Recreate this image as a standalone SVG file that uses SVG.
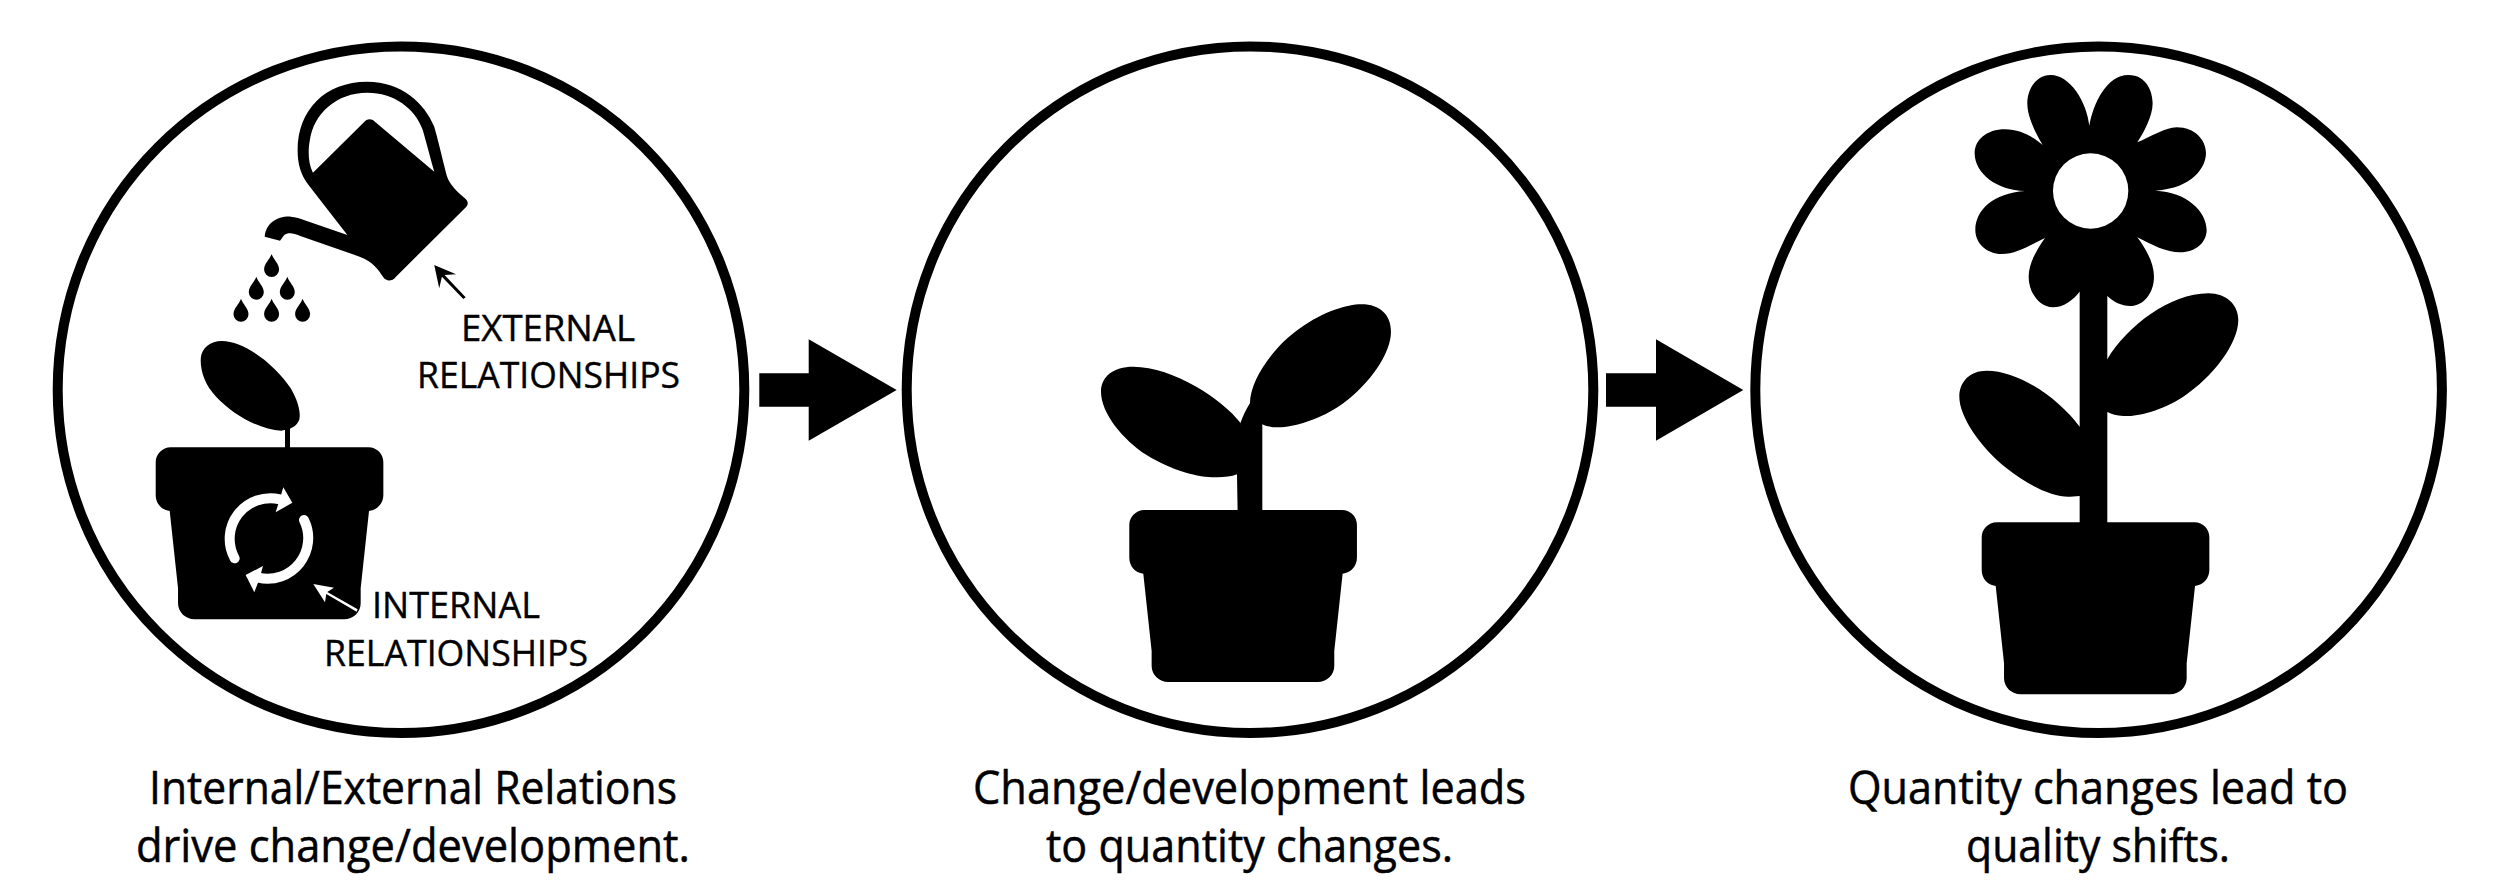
<svg xmlns="http://www.w3.org/2000/svg" width="2500" height="895" viewBox="0 0 2500 895">
<style>
.ring{fill:#fff;stroke:#000;stroke-width:10}
.b{fill:#000}
.w{fill:#fff}
.cap{font-family:"Open Sans","Liberation Sans",sans-serif;font-size:46px;fill:#000;stroke:#000;stroke-width:.5}
.lab{font-family:"Open Sans","Liberation Sans",sans-serif;font-size:37px;fill:#000;stroke:#000;stroke-width:.4}
</style>
<defs>
<path id="pot" d="M45 0H638C665 0 683 21 683 45V143C683 168 665 188 640 191L615 423V468C615 495 593 516 565 516H117C90 516 67 495 67 468V423L42 191C17 188 0 168 0 143V45C0 21 20 0 45 0Z"/>
<path id="drop" d="M0 0C1.5 5 7.5 9.5 7.5 15.5A7.5 7.5 0 0 1-7.5 15.5C-7.5 9.5-1.5 5 0 0Z"/>
</defs>
<rect width="2500" height="895" fill="#fff"/>
<g id="connectors">
<path id="arrow1" class="b" d="M759.3 373.3H808.7V339.3L896.7 390L808.7 440.7V406.7H759.3Z"/>
<path id="arrow2" class="b" d="M1606 373.3H1656V339.3L1743.3 390L1656 440.7V406.7H1606Z"/>
</g>
<g id="node-external-internal">
<circle class="ring" cx="401" cy="389.7" r="343.3"/>
<g id="watering-can" transform="translate(130 50) scale(.3827 .3333)">
<path class="b" fill-rule="evenodd" d="M352 560C355 520 385 498 420 500C432 501 445 505 460 512L568 555L470 410C445 375 438 340 438 300C438 180 510 95 620 95C710 95 770 160 795 230C805 270 815 320 825 365C830 395 845 415 875 445C885 455 885 465 875 475L695 680C685 695 670 695 662 682C650 660 635 635 600 620L445 558C425 548 412 548 403 555L392 572ZM478 368C465 340 465 300 470 270C480 190 540 128 620 128C690 128 745 175 765 240C775 280 785 325 795 365L640 215C630 205 620 205 610 218Z"/>
<path class="b" d="M871 747L815 680L808 715L795 645L852 673L822 675L877 742Z"/>
</g>
<g id="drops" class="b">
<use href="#drop" x="271.6" y="254"/>
<use href="#drop" x="256.3" y="276.7"/>
<use href="#drop" x="287.3" y="276.7"/>
<use href="#drop" x="241" y="298.7"/>
<use href="#drop" x="271.6" y="298.7"/>
<use href="#drop" x="302.6" y="298.7"/>
</g>
<g id="seedling">
<path class="b" transform="translate(130 50) scale(.3827 .3333)" d="M240 873C300 873 380 945 420 1015C440 1055 447 1090 442 1110C435 1130 420 1138 395 1142C340 1140 270 1095 225 1040C195 1005 183 960 185 925C187 893 210 873 240 873Z"/>
<rect class="b" x="285" y="420" width="5" height="30"/>
<use href="#pot" transform="translate(155.7 447.3) scale(.3333)"/>
</g>
<g id="cycle" transform="translate(130 420) scale(.3333)">
<path d="M314 415A122 122 0 0 1 450 238M522 300A122 122 0 0 1 385 473" fill="none" stroke="#fff" stroke-width="30" stroke-linecap="round"/>
<path class="w" d="M460 202L487 248L437 277L447 245Z"/>
<path class="w" d="M347 465L399 438L388 478L373 517Z"/>
<path class="w" d="M683 568L592 516L612 503L550 492L585 547L589 522L680 575Z"/>
</g>
<text class="lab" x="461" y="341" textLength="174" lengthAdjust="spacingAndGlyphs">EXTERNAL</text>
<text class="lab" x="417" y="388" textLength="263" lengthAdjust="spacingAndGlyphs">RELATIONSHIPS</text>
<text class="lab" x="372" y="617.5" textLength="168" lengthAdjust="spacingAndGlyphs">INTERNAL</text>
<text class="lab" x="324" y="665.5" textLength="264" lengthAdjust="spacingAndGlyphs">RELATIONSHIPS</text>
<text class="cap" x="149" y="804" textLength="528" lengthAdjust="spacingAndGlyphs">Internal/External Relations</text>
<text class="cap" x="136" y="861.7" textLength="554" lengthAdjust="spacingAndGlyphs">drive change/development.</text>
</g>
<g id="node-sprout">
<circle class="ring" cx="1250" cy="389.7" r="343.3"/>
<g transform="translate(1060 280) scale(.3333)">
<path class="b" d="M533 700L531 583L541 430C548 410 560 385 570 370L607 430V700Z"/>
<path class="b" d="M570 370C570 300 640 200 720 145C790 95 860 73 905 73C960 73 993 105 993 155C993 220 930 310 850 370C780 420 700 443 650 442C630 442 618 438 607 433L560 400Z"/>
<path class="b" d="M541 428C490 360 340 260 220 260C160 260 123 290 123 335C123 400 190 480 260 525C340 575 420 593 470 592C495 592 515 590 531 583L560 500Z"/>
</g>
<use href="#pot" transform="translate(1129.3 510) scale(.3333)"/>
<text class="cap" x="973" y="804" textLength="553" lengthAdjust="spacingAndGlyphs">Change/development leads</text>
<text class="cap" x="1046" y="861.7" textLength="407" lengthAdjust="spacingAndGlyphs">to quantity changes.</text>
</g>
<g id="node-flower">
<circle class="ring" cx="2098.6" cy="389.7" r="343.3"/>
<g transform="translate(1930 60) scale(.3333)">
<path class="b" d="M478 197C490 130 530 45 595 45C650 45 668 95 668 130C668 170 640 220 622 247C660 232 705 202 740 202C795 202 828 240 828 280C828 320 790 385 676 392C770 395 830 455 830 510C830 545 800 577 750 577C710 577 665 555 622 532C650 570 672 610 672 650C672 700 640 738 600 738C575 738 550 725 532 708L449 695C430 720 400 742 368 742C330 742 296 700 296 650C296 610 320 570 345 534C300 555 260 582 215 582C170 582 136 550 136 510C136 450 190 400 285 393C200 392 134 340 134 280C134 240 170 208 225 208C270 208 310 230 338 255C315 215 292 170 292 130C292 85 320 45 362 45C420 45 470 125 478 197Z"/>
<circle class="w" cx="482" cy="393" r="113"/>
</g>
<g transform="translate(1930 280) scale(.3333)">
<rect class="b" x="449" y="30" width="83" height="710"/>
<path class="b" d="M532 238C590 140 720 40 835 40C890 40 925 75 925 120C925 190 850 290 760 350C690 395 620 410 580 408C560 407 545 403 532 396L500 390L500 250Z"/>
<path class="b" d="M449 440C390 360 270 272 170 272C120 272 88 305 88 350C88 410 150 500 230 565C300 620 370 652 420 650L449 648L480 640L480 450Z"/>
</g>
<use href="#pot" transform="translate(1981.7 522.3) scale(.3333)"/>
<text class="cap" x="1848" y="804" textLength="500" lengthAdjust="spacingAndGlyphs">Quantity changes lead to</text>
<text class="cap" x="1966" y="861.7" textLength="264" lengthAdjust="spacingAndGlyphs">quality shifts.</text>
</g>
</svg>
